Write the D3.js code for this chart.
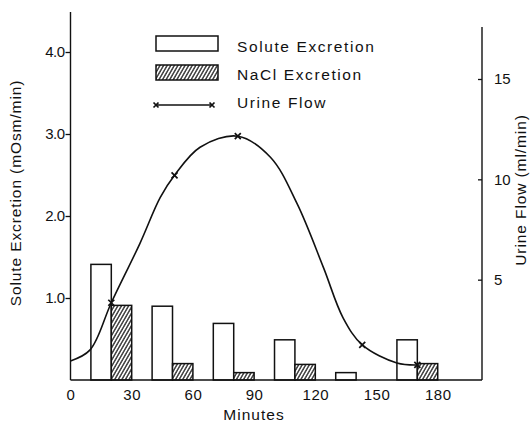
<!DOCTYPE html>
<html>
<head>
<meta charset="utf-8">
<script src="https://cdn.jsdelivr.net/npm/d3@7/dist/d3.min.js"></script>
<style>
  html, body { margin: 0; padding: 0; background: #fff; }
  svg { display: block; }
  text { font-family: "Liberation Sans", "DejaVu Sans", sans-serif; fill: #111; }
</style>
</head>
<body>
<svg id="chart" width="531" height="423"></svg>
<script>
// ---- data ----
const periodStart   = [10, 40, 70, 100, 130, 160];          // minutes, start of each collection period
const soluteValues  = [1.41, 0.90, 0.69, 0.49, 0.09, 0.49];  // mOsm/min
const naclValues    = [0.91, 0.20, 0.09, 0.19, 0,    0.20];  // mOsm/min
const flowMarkT     = [20, 51, 82, 143, 170];                // minutes
const flowMarkV     = [3.85, 10.2, 12.15, 1.75, 0.75];        // ml/min
const flowLineT     = [0, 9.6, 20, 34, 44, 51, 63.5, 82, 98, 111, 124, 133.6, 143, 160, 170];
const flowLineV     = [0.95, 1.5, 3.85, 6.8, 9.1, 10.2, 11.6, 12.15, 11.1, 8.8, 5.6, 3.1, 1.75, 0.85, 0.75];
const xTicks        = [0, 30, 60, 90, 120, 150, 180];
const leftTicks     = [1.0, 2.0, 3.0, 4.0];
const rightTicks    = [5, 10, 15];
const legendLabels  = ["Solute Excretion", "NaCl Excretion", "Urine Flow"];

const svg = d3.select("#chart");
const x  = d3.scaleLinear().domain([0, 201.7]).range([70.5, 482]);
const yL = d3.scaleLinear().domain([0, 4]).range([380, 52]);
const yR = d3.scaleLinear().domain([0, 15]).range([380, 79]);
const barW = 10; // minutes per bar

const defs = svg.append("defs");
const pat = defs.append("pattern").attr("id", "hatch")
  .attr("patternUnits", "userSpaceOnUse").attr("width", 3.1).attr("height", 6)
  .attr("patternTransform", "rotate(30)");
pat.append("rect").attr("width", 3.1).attr("height", 6).attr("fill", "#fff");
pat.append("line").attr("x1", 0.8).attr("y1", 0).attr("x2", 0.8).attr("y2", 6)
  .attr("stroke", "#111").attr("stroke-width", 1.2);

// bars
const g = svg.append("g");
g.selectAll("rect.sol").data(periodStart).join("rect").attr("class", "sol")
  .attr("x", d => x(d)).attr("width", (d) => x(d + barW) - x(d))
  .attr("y", (d, i) => yL(soluteValues[i])).attr("height", (d, i) => yL(0) - yL(soluteValues[i]))
  .attr("fill", "#fff").attr("stroke", "#111").attr("stroke-width", 1.5);
g.selectAll("rect.nacl").data(periodStart.filter((d, i) => naclValues[i] > 0)).join("rect").attr("class", "nacl")
  .attr("x", d => x(d + barW)).attr("width", d => x(d + 2 * barW) - x(d + barW))
  .attr("y", d => yL(naclValues[periodStart.indexOf(d)]))
  .attr("height", d => yL(0) - yL(naclValues[periodStart.indexOf(d)]))
  .attr("fill", "url(#hatch)").attr("stroke", "#111").attr("stroke-width", 1.5);

// axes
const axL = svg.append("g").attr("transform", `translate(${x(0)},0)`)
  .call(d3.axisLeft(yL).tickValues(leftTicks).tickFormat(d3.format(".1f")).tickSize(5).tickSizeOuter(0));
axL.select(".domain").remove();
axL.append("line").attr("x1", 0).attr("x2", 0).attr("y1", 12).attr("y2", 380).attr("stroke", "#111").attr("stroke-width", 1.4);
axL.selectAll(".tick line").attr("stroke", "#111").attr("stroke-width", 1.3);
axL.selectAll(".tick text").attr("x", -6).attr("font-size", 15).attr("fill", "#111").attr("letter-spacing", -0.5);

const axR = svg.append("g").attr("transform", `translate(${x(201.7)},0)`)
  .call(d3.axisRight(yR).tickValues(rightTicks).tickSize(-4).tickSizeOuter(0));
axR.select(".domain").remove();
axR.append("line").attr("x1", 0).attr("x2", 0).attr("y1", 27).attr("y2", 380).attr("stroke", "#111").attr("stroke-width", 1.4);
axR.selectAll(".tick line").attr("stroke", "#111").attr("stroke-width", 1.3);
axR.selectAll(".tick text").attr("x", 12).attr("font-size", 15).attr("fill", "#111");

const axB = svg.append("g").attr("transform", `translate(0,${yL(0)})`)
  .call(d3.axisBottom(x).tickValues(xTicks).tickSize(0).tickPadding(9));
axB.select(".domain").remove();
axB.append("line").attr("x1", x(0)).attr("x2", x(201.7)).attr("y1", 0).attr("y2", 0).attr("stroke", "#111").attr("stroke-width", 1.4);
axB.selectAll(".tick text").attr("font-size", 15).attr("fill", "#111").attr("letter-spacing", 0.5);

// axis titles
svg.append("text").attr("transform", "translate(21,193) rotate(-90)").attr("text-anchor", "middle")
  .attr("font-size", 15.5).attr("letter-spacing", 0.9).text("Solute Excretion (mOsm/min)");
svg.append("text").attr("transform", "translate(526,190) rotate(-90)").attr("text-anchor", "middle")
  .attr("font-size", 15.5).attr("letter-spacing", 0.9).text("Urine Flow (ml/min)");
svg.append("text").attr("x", 254).attr("y", 420).attr("text-anchor", "middle")
  .attr("font-size", 15.5).attr("letter-spacing", 1).text("Minutes");

// urine flow line
const line = d3.line().x((d, i) => x(flowLineT[i])).y((d, i) => yR(flowLineV[i])).curve(d3.curveCatmullRom.alpha(0.5));
svg.append("path").attr("d", line(flowLineT)).attr("fill", "none").attr("stroke", "#111").attr("stroke-width", 1.6);

function cross(sel, cx, cy, r) {
  sel.append("path").attr("d", `M${cx - r},${cy - r}L${cx + r},${cy + r}M${cx - r},${cy + r}L${cx + r},${cy - r}`)
    .attr("stroke", "#111").attr("stroke-width", 1.7).attr("fill", "none");
}
flowMarkT.forEach((t, i) => cross(svg, x(t), yR(flowMarkV[i]), 3));

// legend
const lg = svg.append("g");
lg.append("rect").attr("x", 156).attr("y", 36).attr("width", 62).attr("height", 15)
  .attr("fill", "#fff").attr("stroke", "#111").attr("stroke-width", 1.5);
lg.append("rect").attr("x", 156).attr("y", 65).attr("width", 62).attr("height", 15)
  .attr("fill", "url(#hatch)").attr("stroke", "#111").attr("stroke-width", 1.5);
lg.append("line").attr("x1", 156).attr("x2", 212).attr("y1", 105).attr("y2", 105).attr("stroke", "#111").attr("stroke-width", 1.5);
cross(lg, 156, 105, 2.5);
cross(lg, 212, 105, 2.5);
lg.selectAll("text.lab").data(legendLabels).join("text").attr("class", "lab")
  .attr("x", 237).attr("y", (d, i) => 52 + i * 28).attr("font-size", 15.5).attr("letter-spacing", 1.6)
  .text(d => d);
</script>
</body>
</html>
